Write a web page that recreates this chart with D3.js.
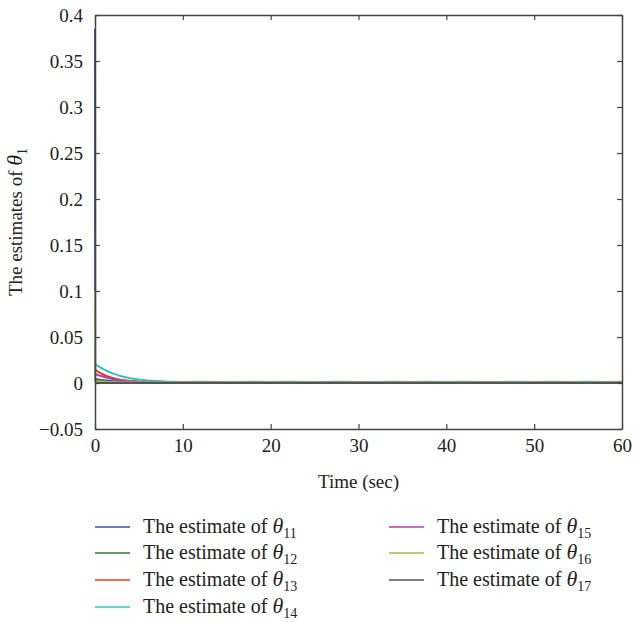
<!DOCTYPE html>
<html>
<head>
<meta charset="utf-8">
<script src="https://cdn.jsdelivr.net/npm/d3@7"></script>
<style>
  body { margin: 0; background: #fff; }
  text { font-family: "Liberation Serif", "DejaVu Serif", serif; fill: #222; }
</style>
</head>
<body>
<div id="chart"></div>
<script>
"use strict";

// sample times (sec)
const times = [0, 0.02, 0.25, 0.5, 1, 1.5, 2, 2.5, 3, 4, 5, 6, 8, 10, 12, 14, 16, 18, 20, 22, 24, 26, 28, 30, 32, 34, 36, 38, 40, 42, 44, 46, 48, 50, 52, 54, 56, 58, 60];

const theta11 = [0.385, 0.004, 0.004, 0.0035, 0.003, 0.0025, 0.002, 0.0018, 0.0016, 0.0013, 0.0011, 0.001, 0.0009, 0.0008, 0.0009, 0.0007, 0.0008, 0.0007, 0.0008, 0.0009, 0.0007, 0.0008, 0.0007, 0.0008, 0.0009, 0.0007, 0.0008, 0.0007, 0.0008, 0.0009, 0.0007, 0.0008, 0.0007, 0.0008, 0.0009, 0.0007, 0.0008, 0.0007, 0.0008];
const theta12 = [0.003, 0.003, 0.0028, 0.0025, 0.002, 0.0016, 0.0013, 0.001, 0.0008, 0.0006, 0.0005, 0.0004, 0.0003, 0.0003, 0.0004, 0.0003, 0.0003, 0.0004, 0.0003, 0.0003, 0.0004, 0.0003, 0.0003, 0.0004, 0.0003, 0.0003, 0.0004, 0.0003, 0.0003, 0.0004, 0.0003, 0.0003, 0.0004, 0.0003, 0.0003, 0.0004, 0.0003, 0.0003, 0.0004];
const theta13 = [0.015, 0.0145, 0.013, 0.0115, 0.009, 0.007, 0.0055, 0.0043, 0.0034, 0.0022, 0.0015, 0.0011, 0.0008, 0.0007, 0.0008, 0.0006, 0.0007, 0.0008, 0.0006, 0.0007, 0.0008, 0.0006, 0.0007, 0.0008, 0.0006, 0.0007, 0.0008, 0.0006, 0.0007, 0.0008, 0.0006, 0.0007, 0.0008, 0.0006, 0.0007, 0.0008, 0.0006, 0.0007, 0.0008];
const theta14 = [0.021, 0.0205, 0.019, 0.0175, 0.0148, 0.0125, 0.0105, 0.0088, 0.0073, 0.0052, 0.0037, 0.0027, 0.0016, 0.0012, 0.0013, 0.0011, 0.0012, 0.0014, 0.0011, 0.0013, 0.0012, 0.0011, 0.0014, 0.0012, 0.0011, 0.0013, 0.0012, 0.0014, 0.0011, 0.0013, 0.0012, 0.0011, 0.0014, 0.0012, 0.0013, 0.0011, 0.0014, 0.0012, 0.0013];
const theta15 = [0.01, 0.0098, 0.009, 0.0082, 0.0068, 0.0055, 0.0044, 0.0035, 0.0028, 0.0018, 0.0012, 0.0009, 0.0006, 0.0005, 0.0006, 0.0005, 0.0004, 0.0005, 0.0006, 0.0005, 0.0004, 0.0005, 0.0006, 0.0005, 0.0004, 0.0005, 0.0006, 0.0005, 0.0004, 0.0005, 0.0006, 0.0005, 0.0004, 0.0005, 0.0006, 0.0005, 0.0004, 0.0005, 0.0006];
const theta16 = [0.1, 0.002, 0.002, 0.0018, 0.0015, 0.0012, 0.001, 0.0009, 0.0008, 0.0007, 0.0006, 0.0006, 0.0005, 0.0005, 0.0006, 0.0005, 0.0005, 0.0006, 0.0005, 0.0005, 0.0006, 0.0005, 0.0005, 0.0006, 0.0005, 0.0005, 0.0006, 0.0005, 0.0005, 0.0006, 0.0005, 0.0005, 0.0006, 0.0005, 0.0005, 0.0006, 0.0005, 0.0005, 0.0006];
const theta17 = [0, 0, 0, 0, 0, 0, 0, 0, 0, 0, 0, 0, 0, 0, 0, 0, 0, 0, 0, 0, 0, 0, 0, 0, 0, 0, 0, 0, 0, 0, 0, 0, 0, 0, 0, 0, 0, 0, 0];

const seriesNames = ["11", "12", "13", "14", "15", "16", "17"];
const seriesValues = [theta11, theta12, theta13, theta14, theta15, theta16, theta17];
const plotColors = ["#3452a6", "#2d7a3e", "#e53a2e", "#33bfc0", "#b83aa6", "#8dbb4e", "#555555"];
const legendColors = ["#3452a6", "#2d7a3e", "#e53a2e", "#33bfc0", "#b83aa6", "#b5b244", "#555555"];

const xTicks = [0, 10, 20, 30, 40, 50, 60];
const yTicks = [-0.05, 0, 0.05, 0.1, 0.15, 0.2, 0.25, 0.3, 0.35, 0.4];

const width = 634, height = 622;
const margin = {top: 15, right: 12, bottom: 193, left: 95};
const serif = "'Liberation Serif', 'DejaVu Serif', serif";
const fontSize = 19;

const svg = d3.select("#chart").append("svg")
    .attr("width", width)
    .attr("height", height);

const x = d3.scaleLinear([0, 60], [margin.left, width - margin.right]);
const y = d3.scaleLinear([-0.05, 0.4], [height - margin.bottom, margin.top]);

const fmt = d => d === 0 ? "0" : (d < 0 ? "\u2212" : "") + String(Math.abs(d));

// series lines
const line = d3.line()
    .x((d, i) => x(times[i]))
    .y(d => y(d));

svg.append("g")
  .selectAll("path")
  .data(seriesValues)
  .join("path")
    .attr("fill", "none")
    .attr("stroke", (d, i) => plotColors[i])
    .attr("stroke-width", 2)
    .attr("d", line);

// axes (box with inner ticks on all sides)
const tickLen = 5;
const axisColor = "#444";

function styleAxis(g) {
    g.attr("font-family", serif);
    g.select(".domain").attr("stroke", axisColor).attr("stroke-width", 1.5);
    g.selectAll(".tick line").attr("stroke", axisColor).attr("stroke-width", 1.2);
    g.selectAll(".tick text")
        .attr("font-size", fontSize)
        .attr("fill", "#222");
}

svg.append("g")
    .attr("transform", `translate(0,${y(-0.05)})`)
    .call(d3.axisBottom(x).tickValues(xTicks).tickFormat(d3.format("d"))
        .tickSizeInner(-tickLen).tickSizeOuter(0).tickPadding(10))
    .call(styleAxis);

svg.append("g")
    .attr("transform", `translate(0,${y(0.4)})`)
    .call(d3.axisTop(x).tickValues(xTicks).tickFormat("")
        .tickSizeInner(-tickLen).tickSizeOuter(0))
    .call(styleAxis);

svg.append("g")
    .attr("transform", `translate(${x(0)},0)`)
    .call(d3.axisLeft(y).tickValues(yTicks).tickFormat(fmt)
        .tickSizeInner(-tickLen).tickSizeOuter(0).tickPadding(12))
    .call(styleAxis);

svg.append("g")
    .attr("transform", `translate(${x(60)},0)`)
    .call(d3.axisRight(y).tickValues(yTicks).tickFormat("")
        .tickSizeInner(-tickLen).tickSizeOuter(0))
    .call(styleAxis);

// axis titles
svg.append("text")
    .attr("x", (x(0) + x(60)) / 2)
    .attr("y", 488)
    .attr("text-anchor", "middle")
    .attr("font-size", fontSize)
    .text("Time (sec)");

const yl = svg.append("text")
    .attr("transform", `translate(22,${(y(-0.05) + y(0.4)) / 2}) rotate(-90)`)
    .attr("text-anchor", "middle")
    .attr("font-size", fontSize);
yl.append("tspan").text("The estimates of ");
yl.append("tspan").attr("font-style", "italic").attr("font-size", 22).text("\u03b8");
yl.append("tspan").attr("font-size", 14).attr("dy", 5).text("1");

// legend
const legendRows = [527, 553, 580, 607];
const legendCols = [95, 389];
const legend = svg.append("g");
seriesNames.forEach((name, i) => {
    const col = i < 4 ? 0 : 1;
    const row = i < 4 ? i : i - 4;
    const lx = legendCols[col];
    const ly = legendRows[row];
    legend.append("line")
        .attr("x1", lx).attr("x2", lx + 35)
        .attr("y1", ly).attr("y2", ly)
        .attr("stroke", legendColors[i])
        .attr("stroke-width", 1.5);
    const t = legend.append("text")
        .attr("x", lx + 48)
        .attr("y", ly + 6)
        .attr("font-size", fontSize + 1);
    t.append("tspan").text("The estimate of ");
    t.append("tspan").attr("font-style", "italic").attr("font-size", 22).text("\u03b8");
    t.append("tspan").attr("font-size", 14).attr("dy", 5).text(name);
});
</script>
</body>
</html>
